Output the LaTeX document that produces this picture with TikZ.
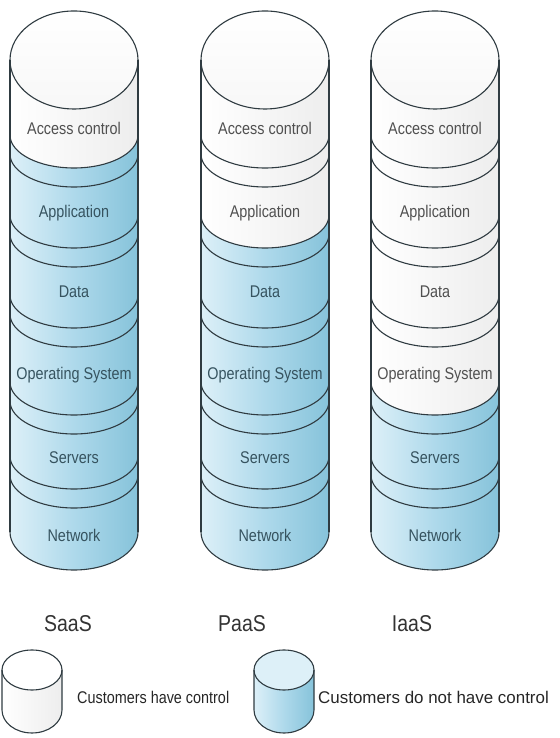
\documentclass[tikz,border=0pt]{standalone}
\usepackage{fontspec}
\setmainfont{Liberation Sans}[FakeStretch=0.85]
\newfontfamily\plainsans{Liberation Sans}
\usepackage{xcolor}
\usepackage{tikz}

\definecolor{edge}{HTML}{2F3B41}
\definecolor{bluel}{HTML}{DDF0F8}
\definecolor{bluem}{HTML}{AED9EB}
\definecolor{bluer}{HTML}{86C3DA}
\definecolor{txtblue}{HTML}{36535F}
\definecolor{txtgray}{HTML}{505050}

% one slab of a stack: centre x, half width, top y, bottom y, top arc end angle, top radius, bottom radius, look
\newcommand\slab[8]{%
  \path[#8] (#1-#2,#3) arc[start angle=180,end angle=#5,x radius=#2,y radius=#6]
    -- (#1+#2,#4) arc[start angle=0,end angle=-180,x radius=#2,y radius=#7] -- cycle;}

\begin{document}
\begin{tikzpicture}[
  x=1bp, y=1bp,
  outline/.style={draw=edge, line width=1.1pt},
  ctrl/.style={left color=white, right color=gray!14},
  noctrl/.style={left color=bluel, right color=bluer, middle color=bluem},
  layer/.style={font=\fontsize{17}{20}\selectfont},
  model/.style={font=\fontsize{23}{26}\selectfont, text=black!80},
  key/.style={font=\fontsize{17}{20}\selectfont, anchor=west, inner sep=0pt, text=black!85}
]
\useasboundingbox (0,0) rectangle (560,738);

% the three stacks
\foreach \c/\cx/\nw in {1/74/1, 2/265/2, 3/435/4} {
  \foreach \i/\yt/\yb/\ty/\txt in {1/678/603/610/Access control, 2/603/523/525/Application,
      3/523/443/446/Data, 4/443/356/363/Operating System, 5/356/282/280/Servers, 6/282/206/203/Network} {
    \ifnum\i=1 \def\ea{0}\def\rt{49}\else\def\ea{360}\def\rt{33}\fi
    \ifnum\i=6 \def\rb{38}\else\def\rb{33}\fi
    \ifnum\i>\nw \def\look{noctrl}\def\ink{txtblue}\else\def\look{ctrl}\def\ink{txtgray}\fi
    \slab{\cx}{64}{\yt}{\yb}{\ea}{\rt}{\rb}{\look}
    \ifnum\i>1
      \draw[outline] (\cx-64,\yt) arc[start angle=180,end angle=360,x radius=64,y radius=33];
      \draw[outline] (\cx-64,\yt-19) arc[start angle=180,end angle=360,x radius=64,y radius=33];
    \fi
    \ifnum\i=6 \draw[outline] (\cx+64,\yb) arc[start angle=0,end angle=-180,x radius=64,y radius=\rb];\fi
    \node[layer, text=\ink] (c\c-\i) at (\cx,\ty) {\txt};
  }
  \draw[outline, top color=white, bottom color=gray!6] (\cx,678) ellipse[x radius=64, y radius=49];
  \draw[outline] (\cx-64,678) -- (\cx-64,206) (\cx+64,678) -- (\cx+64,206);
}

\node[model] (saas) at (68,114) {SaaS};
\node[model] (paas) at (242,114) {PaaS};
\node[model] (iaas) at (412,114) {IaaS};

% legend
\slab{32}{30}{68}{28}{0}{20}{23}{ctrl}
\draw[outline, fill=white] (32,68) ellipse[x radius=30, y radius=20];
\draw[outline] (2,68) -- (2,28) arc[start angle=180,end angle=360,x radius=30,y radius=23] -- (62,68);
\node[key] (have) at (77,41) {Customers have control};

\slab{284}{30}{68}{28}{0}{20}{23}{noctrl}
\draw[outline, fill=bluel] (284,68) ellipse[x radius=30, y radius=20];
\draw[outline] (254,68) -- (254,28) arc[start angle=180,end angle=360,x radius=30,y radius=23] -- (314,68);
\node[key, font=\plainsans\fontsize{17}{20}\selectfont] (havenot) at (318,41) {Customers do not have control};
\end{tikzpicture}
\end{document}
